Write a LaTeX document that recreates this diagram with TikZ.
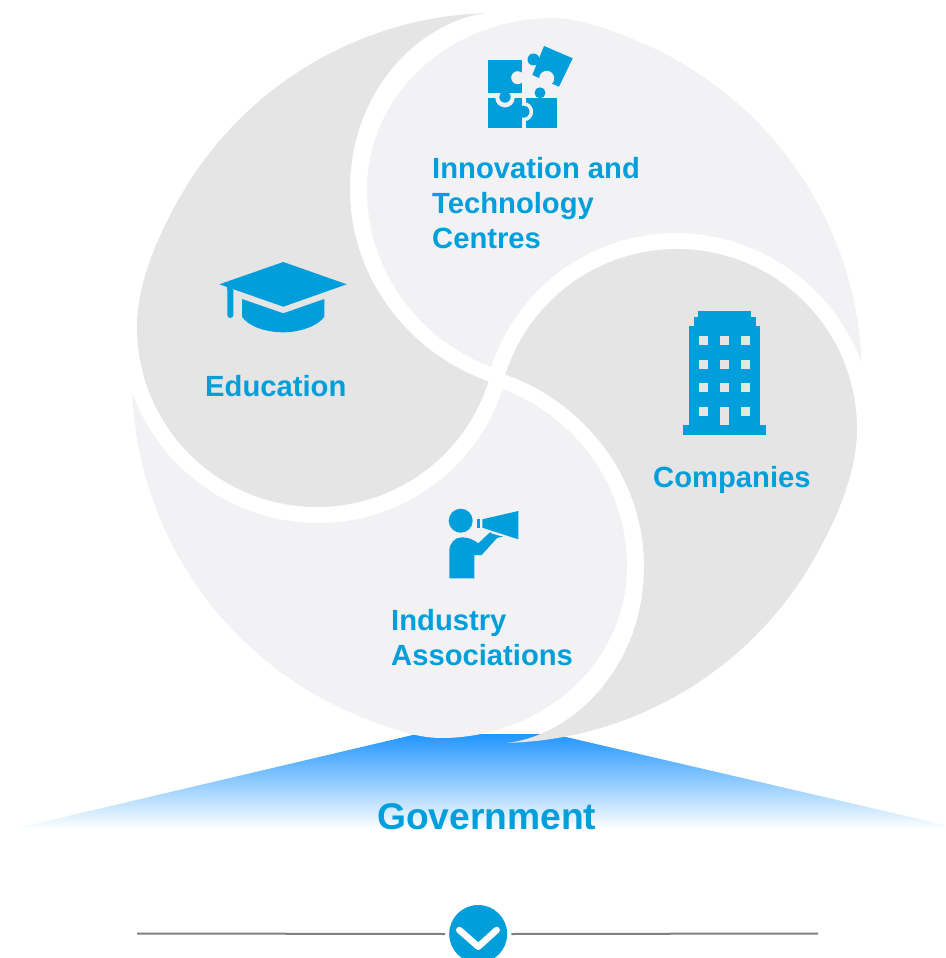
\documentclass[tikz,border=0pt]{standalone}
\usepackage{fontspec}
\setmainfont{Liberation Sans}
\definecolor{tealblue}{HTML}{009FDB}
\definecolor{dk}{HTML}{E5E5E5}
\definecolor{lt}{HTML}{F2F2F4}
\definecolor{govtop}{HTML}{2196FF}
\definecolor{govmid}{HTML}{ACCCFC}
\definecolor{rulegray}{HTML}{808080}
\tikzset{
  label29/.style={text=tealblue,font=\bfseries\fontsize{29.2}{35}\selectfont,inner sep=0pt,anchor=base west,align=left},
  label37/.style={text=tealblue,font=\bfseries\fontsize{37.2}{44}\selectfont,inner sep=0pt,anchor=base west},
  icon/.style={fill=tealblue,draw=none},
}
\def\lighttop{(553,18) .. controls (580,18) and (612.7,30.4) .. (640.3,42.2)
  arc[start angle=-66.9,end angle=-2.3,radius=365pt]
  arc[start angle=-20,end angle=-90,radius=198pt]
  arc[start angle=-90,end angle=-162,radius=194pt]
  .. controls (418,339) and (367,270) .. (367,190)
  .. controls (367,90) and (455,18) .. (553,18) -- cycle}
\def\darkleft{(486.8,13.1) arc[start angle=-91.6,end angle=-150,radius=365pt]
  .. controls (156,238.8) and (137,285) .. (137,327)
  arc[start angle=180,end angle=17.6,radius=180pt]
  .. controls (408,353) and (350,277) .. (350,190)
  .. controls (350,85) and (425,20) .. (486.8,13.1) -- cycle}
\begin{document}
\begin{tikzpicture}[x=1pt,y=1pt,yscale=-1]
\useasboundingbox (0,0) rectangle (945,958);
% government band
\shade[top color=govtop,middle color=govmid,bottom color=white]
  (417,734) -- (553,734) -- (945,825) -- (945,829) -- (13,829) -- cycle;
% swirl
\fill[lt] \lighttop;
\fill[dk] \darkleft;
\begin{scope}[rotate around={180:(497,378)}]
\fill[lt] \lighttop;
\fill[dk] \darkleft;
\end{scope}
% puzzle
\fill[icon] (525.7,97.7) rectangle (556.7,128.3);
\fill[lt] (523.5,111.7) circle[radius=9.7pt];
\fill[icon] (488.3,97.7) rectangle (522.3,128.3);
\fill[icon] (523.5,111.7) circle[radius=6pt];
\fill[lt] (505,97.7) circle[radius=9.7pt];
\fill[icon] (505,97) circle[radius=5.7pt];
\fill[icon] (488.3,60) rectangle (522.3,93.3);
\fill[lt] (517.7,77.7) circle[radius=6.5pt];
\fill[icon] (540,92.8) circle[radius=5.5pt];
\fill[icon] (544,46) -- (572.7,58.3) -- (559,86.7) -- (532.3,75) -- cycle;
\fill[icon] (533.5,59.5) circle[radius=6pt];
\fill[lt] (546.7,78.3) circle[radius=7.5pt];
% cap
\fill[icon] (219.3,284.3) -- (283.3,262) -- (346.7,284.3) -- (283.3,306.7) -- cycle;
\fill[icon,rounded corners=3pt] (227.3,287) rectangle (233.3,318);
\fill[icon] (227.3,284) rectangle (233.3,290);
\fill[icon] (242,299) -- (283.3,313.3) -- (324.3,299) -- (324.3,316.7)
  .. controls (318,326) and (300,332.3) .. (283.3,332.3)
  .. controls (265,332.3) and (248,326) .. (242,316.7) -- cycle;
% building
\fill[icon] (683.3,425) rectangle (766,435);
\fill[icon] (689.3,326) rectangle (760,425);
\fill[icon] (693.7,316.7) rectangle (755.7,326);
\fill[icon] (698,311) rectangle (751.3,316.7);
\foreach \wy in {336,360,383.3,407.3}{
  \foreach \wx in {699.3,720.3,741}{
    \fill[dk] (\wx,\wy) rectangle ++(9,9);
  }
}
\fill[dk] (720.3,407.3) rectangle (729.3,425);
% person
\fill[icon] (460.7,520.7) circle[radius=12pt];
\fill[icon] (449.3,578.3) -- (449.3,551) .. controls (449.3,543) and (455,537.3) .. (461.7,537.3)
  .. controls (469,537.3) and (474,540) .. (478.3,543.3) -- (490,532.3) -- (503,536.5) -- (497,538)
  -- (481.7,555) -- (474.3,555) -- (474.3,578.3) -- cycle;
\fill[icon] (482.3,519.3) -- (518.3,511) -- (518.3,539.3) -- (482.3,527.7) -- cycle;
\fill[icon] (477.3,519.3) rectangle (480,528.3);
\draw[lt,line width=1.1pt] (491.5,532.7) -- (501.5,535.7);
% texts
\node[label29] (innov) at (432,248) {Innovation and\\Technology\\Centres};
\node[label29] (edu) at (205,396) {Education};
\node[label29] (comp) at (653,487) {Companies};
\node[label29] (indu) at (391,665) {Industry\\Associations};
\node[label37] (gov) at (377,829) {Government};
% divider
\node[circle,fill=tealblue,minimum size=58pt,inner sep=0pt] (badge) at (478.2,934) {};
\draw[white,line width=6.5pt,line cap=round,line join=round] (459.3,930) -- (478.3,946.7) -- (496.7,930);
\coordinate (ruleL) at (137,933.5);
\coordinate (ruleR) at (818,933.5);
\draw[rulegray,line width=2pt,shorten >=4pt] (ruleL) -- (badge.west);
\draw[rulegray,line width=2pt,shorten >=4pt] (ruleR) -- (badge.east);
\end{tikzpicture}
\end{document}
